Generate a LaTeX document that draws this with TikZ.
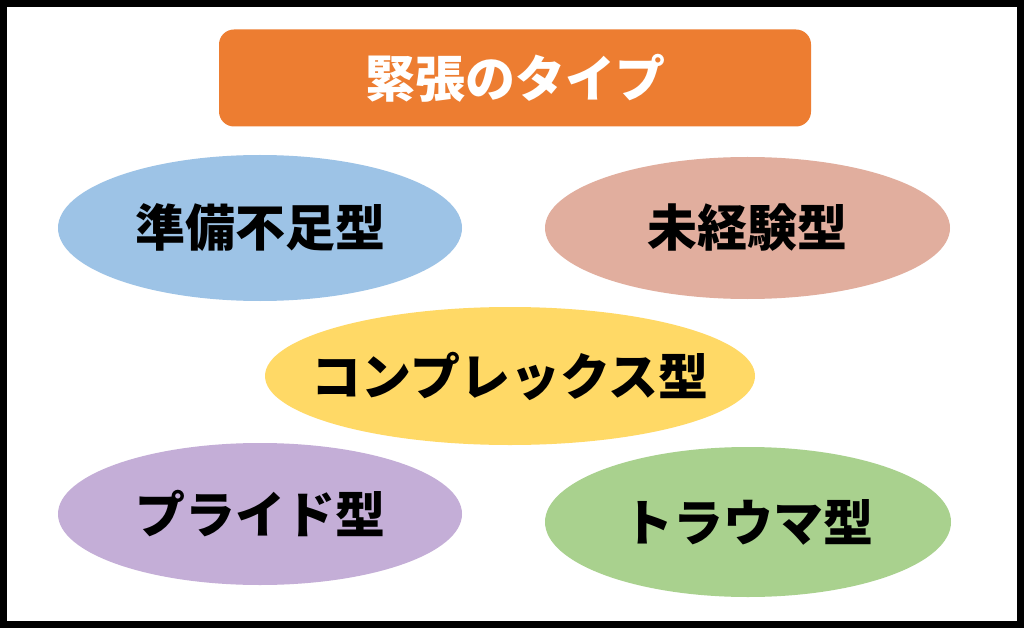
\documentclass[tikz,border=0pt]{standalone}
\usepackage{fontspec}
\newfontfamily\jp{Noto Sans CJK JP}
\usetikzlibrary{shapes.geometric}
\definecolor{ttlorange}{HTML}{ED7D31}
\definecolor{cblue}{HTML}{9DC3E6}
\definecolor{cpink}{HTML}{E1AE9E}
\definecolor{cyellow}{HTML}{FFD966}
\definecolor{cpurple}{HTML}{C4AED7}
\definecolor{cgreen}{HTML}{A9D18E}
\begin{document}
\begin{tikzpicture}[x=1pt,y=-1pt,
  jpfont/.style={font=\jp\bfseries\fontsize{50pt}{50pt}\selectfont},
  oval/.style={ellipse,inner ysep=0pt,inner xsep=-60pt,jpfont,text=black,draw=none},
  titlebox/.style={rectangle,rounded corners=15pt,inner sep=0pt,jpfont,text=white,fill=ttlorange}]
\useasboundingbox (0,0) rectangle (1024,628);
\fill[black] (0,0) rectangle (1024,628);
\fill[white] (7,7) rectangle (1017,621);
\node[titlebox, minimum width=592pt, minimum height=97pt] (title) at (515,78) {緊張のタイプ};
\node[oval, fill=cblue, minimum width=404pt, minimum height=146pt] (a) at (260,228) {準備不足型};
\node[oval, fill=cpink, minimum width=405pt, minimum height=142pt] (b) at (747.5,228) {未経験型};
\node[oval, fill=cyellow, minimum width=490pt, minimum height=138pt] (c) at (510,376) {コンプレックス型};
\node[oval, fill=cpurple, minimum width=404pt, minimum height=142pt] (d) at (260,514) {プライド型};
\node[oval, fill=cgreen, minimum width=406pt, minimum height=150pt] (e) at (748,522) {トラウマ型};
\end{tikzpicture}
\end{document}
